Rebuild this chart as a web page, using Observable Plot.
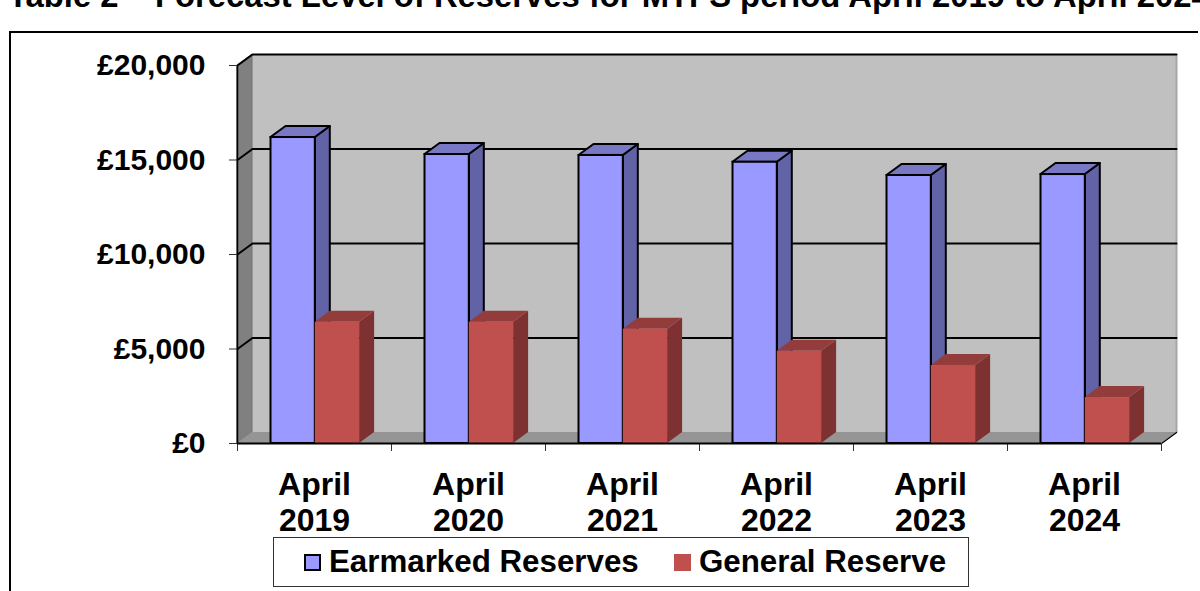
<!DOCTYPE html>
<html>
<head>
<meta charset="utf-8">
<script src="https://cdn.jsdelivr.net/npm/d3@7"></script>
<script src="https://cdn.jsdelivr.net/npm/@observablehq/plot@0.6"></script>
<style>
  html, body { margin: 0; padding: 0; background: #fff; }
  body { width: 1200px; height: 591px; overflow: hidden; position: relative;
         font-family: "Liberation Sans", Arial, sans-serif; font-weight: bold; color: #000; }
  #title { position: absolute; left: 8px; top: -20px; font-size: 32.8px; line-height: 32px; white-space: nowrap; }
  #frame { position: absolute; left: 9px; top: 31px; width: 1187px; height: 600px;
           border-left: 2px solid #000; border-top: 2px solid #000; }
  #chart { position: absolute; left: 0; top: 0; }
  #legend { position: absolute; left: 273px; top: 537px; width: 694px; height: 48px;
            border: 1.5px solid #333; background: #fff; }
  .item { position: absolute; top: 0; height: 48px; display: flex; align-items: center; font-size: 31.3px; }
  .sw { width: 17px; height: 17px; margin-right: 8px; box-sizing: border-box; }
</style>
</head>
<body>
<div id="title">Table 2 – Forecast Level of Reserves for MTFS period April 2019 to April 2024</div>
<div id="frame"></div>
<div id="chart"></div>
<div id="legend"></div>
<script>
// ---- data ----
const years = ["2019", "2020", "2021", "2022", "2023", "2024"];
const seriesNames = ["Earmarked Reserves", "General Reserve"];
const earmarked = [16190, 15290, 15240, 14880, 14180, 14230];
const general = [6420, 6420, 6050, 4880, 4130, 2430];
const yTicks = [0, 5000, 10000, 15000, 20000];

// ---- styling / geometry constants ----
const colors = {
  "Earmarked Reserves": {front: "#9999ff", side: "#6262a6", top: "#7878c4", stroke: "#000"},
  "General Reserve": {front: "#c0504d", side: "#7d3130", top: "#923d3b", stroke: "none"}
};
const N = years.length;
const YMAX = yTicks[yTicks.length - 1];
const PX_X = N / 924;          // x units per pixel
const PX_Y = YMAX / 378;       // y units per pixel
const DX = 15 * PX_X;          // depth offset (x)
const DY = 11 * PX_Y;          // depth offset (y)
const OFF = 33.5 * PX_X;       // left gap inside a category
const BW = 44.3 * PX_X;        // bar width

const rows = years.flatMap((yr, i) => [
  {i, year: yr, series: seriesNames[0], value: earmarked[i], slot: 0},
  {i, year: yr, series: seriesNames[1], value: general[i], slot: 1}
]).map(d => {
  const x1 = d.i + OFF + d.slot * BW;
  return {...d, x1, x2: x1 + BW, id: d.series + d.year};
});

const sides = rows.flatMap(d => [
  {id: d.id, series: d.series, x: d.x2, lo: 0, hi: d.value},
  {id: d.id, series: d.series, x: d.x2 + DX, lo: DY, hi: d.value + DY}
]);
const tops = rows.flatMap(d => [
  {id: d.id, series: d.series, x: d.x1, lo: d.value, hi: d.value},
  {id: d.id, series: d.series, x: d.x1 + DX, lo: d.value, hi: d.value + DY},
  {id: d.id, series: d.series, x: d.x2, lo: d.value, hi: d.value + DY},
  {id: d.id, series: d.series, x: d.x2 + DX, lo: d.value + DY, hi: d.value + DY}
]);

const sideWall = [{x: 0, lo: 0, hi: YMAX}, {x: DX, lo: DY, hi: YMAX + DY}];
const floor = [
  {x: 0, lo: 0, hi: 0}, {x: DX, lo: 0, hi: DY},
  {x: N, lo: 0, hi: DY}, {x: N + DX, lo: DY, hi: DY}
];
const grid = yTicks.filter(t => t > 0).flatMap(t => [
  {t, x: 0, y: t}, {t, x: DX, y: t + DY}, {t, x: N + DX, y: t + DY}
]);

const fmt = d3.format(",");
const byS = (key) => (d) => colors[d.series][key];

const chart = Plot.plot({
  width: 1200,
  height: 535,
  marginLeft: 237,
  marginRight: 39,
  marginTop: 65,
  marginBottom: 92,
  style: {overflow: "visible", background: "transparent", fontFamily: "'Liberation Sans', Arial, sans-serif"},
  x: {domain: [0, N], axis: null},
  y: {domain: [0, YMAX], axis: null},
  marks: [
    // walls
    Plot.rect([0], {x1: DX, x2: N + DX, y1: DY, y2: YMAX + DY, fill: "#c0c0c0"}),
    Plot.area(sideWall, {x1: "x", y1: "lo", y2: "hi", fill: "#808080", stroke: "#707070", strokeWidth: 1}),
    Plot.area(floor, {x1: "x", y1: "lo", y2: "hi", fill: "#959595"}),
    Plot.ruleX([N + DX], {y1: DY, y2: YMAX + DY, stroke: "#a6a6a6", strokeWidth: 2}),
    Plot.line(grid, {x: "x", y: "y", z: "t", stroke: "#000", strokeWidth: 2}),
    Plot.line([{x: N, y: 0}, {x: N + DX, y: DY}], {x: "x", y: "y", stroke: "#000", strokeWidth: 1.5}),
    // axes
    Plot.ruleX([0], {y1: 0, y2: YMAX, stroke: "#000", strokeWidth: 1.5}),
    Plot.axisY({ticks: yTicks, tickSize: 8, tickPadding: 24, stroke: "#333",
      tickFormat: d => "£" + fmt(d), fontSize: 30, fontWeight: "bold", fill: "#000"}),
    Plot.axisX({ticks: d3.range(N + 1), tickSize: 8, tickFormat: () => "", stroke: "#333"}),
    // bars: side, top, front
    Plot.area(sides, {x1: "x", y1: "lo", y2: "hi", z: "id", fill: byS("side"), stroke: byS("stroke"), strokeWidth: 2, strokeLinejoin: "round"}),
    Plot.area(tops, {x1: "x", y1: "lo", y2: "hi", z: "id", fill: byS("top"), stroke: byS("stroke"), strokeWidth: 2, strokeLinejoin: "round"}),
    Plot.rect(rows, {x1: "x1", x2: "x2", y1: 0, y2: "value", fill: byS("front"), stroke: byS("stroke"), strokeWidth: 2}),
    Plot.ruleY([0], {x1: 0, x2: N, stroke: "#000", strokeWidth: 2}),
    // category labels
    Plot.text(years, {x: (d, i) => i + 0.5, frameAnchor: "bottom", text: d => "April\n" + d,
      lineAnchor: "top", dy: 26, fontSize: 32, fontWeight: "bold", lineHeight: 1.125, fill: "#000"})
  ]
});
document.getElementById("chart").appendChild(chart);

// legend
const legend = document.getElementById("legend");
const legendPos = [30, 400];
seriesNames.forEach((s, k) => {
  const item = document.createElement("div");
  item.className = "item";
  item.style.left = legendPos[k] + "px";
  const sw = document.createElement("div");
  sw.className = "sw";
  sw.style.background = colors[s].front;
  if (colors[s].stroke !== "none") sw.style.border = "2px solid #000";
  item.appendChild(sw);
  const t = document.createElement("span");
  t.textContent = s;
  item.appendChild(t);
  legend.appendChild(item);
});
</script>
</body>
</html>
